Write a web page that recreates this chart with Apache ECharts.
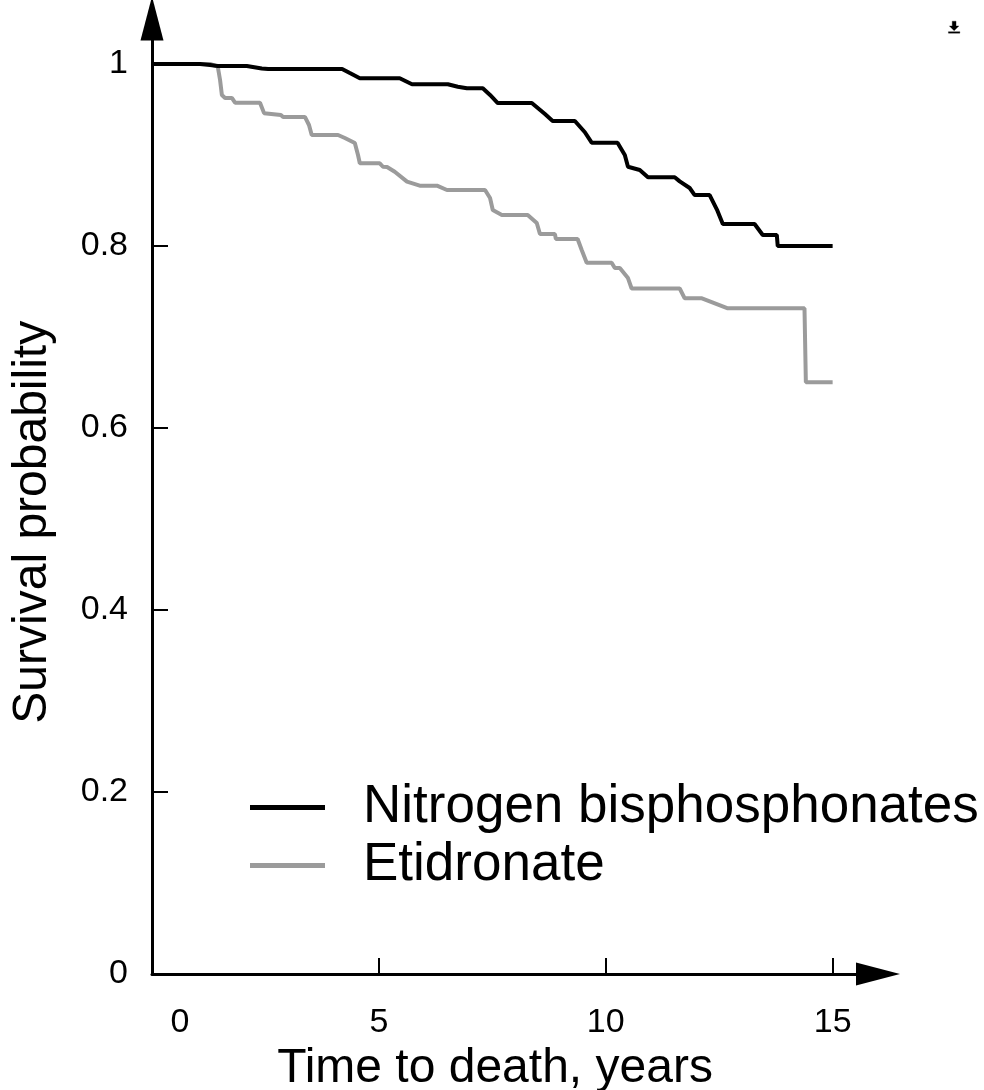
<!DOCTYPE html>
<html>
<head>
<meta charset="utf-8">
<script src="https://cdn.jsdelivr.net/npm/echarts@6/dist/echarts.min.js"></script>
<style>
html,body{margin:0;padding:0;background:#fff;}
#chart{width:984px;height:1090px;}
</style>
</head>
<body>
<div id="chart"></div>
<script>
// Data (time in years, survival probability)
const seriesNames = ['Nitrogen bisphosphonates', 'Etidronate'];

const nitrogenTime = [0, 1.06, 1.28, 1.45, 2.09, 2.42, 2.56, 4.19, 4.36, 4.58, 5.46, 5.73, 6.52, 6.74, 6.94, 7.29, 7.45, 7.62, 8.37, 8.66, 8.83, 9.32, 9.54, 9.69, 10.26, 10.42, 10.49, 10.75, 10.93, 11.52, 11.63, 11.85, 11.96, 12.29, 12.45, 12.58, 13.28, 13.46, 13.77, 13.79, 15.0];
const nitrogenSurv = [1, 1, 0.9989, 0.9978, 0.9978, 0.9951, 0.9945, 0.9945, 0.990, 0.9843, 0.9843, 0.9777, 0.9777, 0.975, 0.9733, 0.9733, 0.966, 0.9571, 0.9571, 0.945, 0.9374, 0.9374, 0.925, 0.9135, 0.9135, 0.90, 0.8871, 0.8835, 0.8755, 0.8755, 0.871, 0.8637, 0.856, 0.856, 0.84, 0.8242, 0.8242, 0.8121, 0.8121, 0.80, 0.80];

const etidronateTime = [0, 1.28, 1.45, 1.50, 1.54, 1.61, 1.76, 1.83, 2.38, 2.47, 2.84, 2.89, 3.37, 3.46, 3.52, 4.10, 4.25, 4.47, 4.54, 4.58, 5.02, 5.09, 5.18, 5.35, 5.62, 5.90, 6.28, 6.50, 7.34, 7.45, 7.51, 7.71, 8.28, 8.48, 8.55, 8.88, 8.90, 9.38, 9.47, 9.58, 10.13, 10.20, 10.31, 10.49, 10.57, 11.63, 11.74, 12.12, 12.69, 14.38, 14.41, 15.0];
const etidronateSurv = [1, 1, 0.997, 0.9824, 0.9659, 0.9627, 0.9627, 0.9575, 0.9575, 0.946, 0.944, 0.9418, 0.9418, 0.933, 0.922, 0.922, 0.9187, 0.9132, 0.90, 0.8909, 0.8909, 0.8871, 0.8868, 0.8816, 0.8707, 0.8663, 0.8663, 0.8615, 0.8615, 0.8527, 0.8396, 0.8341, 0.8341, 0.8253, 0.8132, 0.8132, 0.8077, 0.8077, 0.7956, 0.7816, 0.7816, 0.7758, 0.7758, 0.7648, 0.7533, 0.7533, 0.7425, 0.7425, 0.7315, 0.7315, 0.6502, 0.6502];

const xTickValues = [5, 10, 15];
const xLabelValues = [0, 5, 10, 15];
const yTickValues = [0.2, 0.4, 0.6, 0.8, 1];
const yLabelValues = [0, 0.2, 0.4, 0.6, 0.8, 1];

const xAxisName = 'Time to death, years';
const yAxisName = 'Survival probability';

const FONT = '"Liberation Sans", Arial, sans-serif';

function pairs(xs, ys) { return xs.map((x, i) => [x, ys[i]]); }

const chart = echarts.init(document.getElementById('chart'), null, {renderer: 'canvas'});
chart.setOption({
  animation: false,
  backgroundColor: '#fff',
  toolbox: {
    right: 9, top: 6, itemSize: 12,
    feature: {
      saveAsImage: {
        icon: 'path://M4,0h4v5h3l-5,5l-5,-5h3z M0,11h12v1.6h-12z',
        title: ' '
      }
    },
    iconStyle: {color: '#000', borderColor: '#000', borderWidth: 0.3}
  },
  grid: {left: 152, right: 106, top: 18.5, bottom: 116, containLabel: false, outerBoundsMode: 'none'},
  legend: {
    orient: 'vertical',
    left: 245, top: 776,
    itemWidth: 75, itemHeight: 5, itemGap: 5,
    icon: 'rect',
    data: [
      {name: seriesNames[0], itemStyle: {color: '#000'}},
      {name: seriesNames[1], itemStyle: {color: '#9b9b9b'}}
    ],
    textStyle: {fontSize: 53, fontFamily: FONT, color: '#000', padding: [0, 0, 0, 33]}
  },
  xAxis: {
    type: 'value', min: 0, max: 16,
    name: xAxisName, nameLocation: 'middle', nameGap: 50,
    nameTextStyle: {fontSize: 48, fontFamily: FONT, color: '#000', padding: [0, 40, 0, 0]},
    axisLine: {show: true, lineStyle: {color: '#000', width: 3}, symbol: ['none', 'triangle'], symbolSize: [23, 44]},
    axisTick: {show: true, inside: true, length: 16, lineStyle: {color: '#000', width: 2}, customValues: xTickValues},
    axisLabel: {
      customValues: xLabelValues, margin: 32, fontSize: 34, fontFamily: FONT, color: '#000',
      formatter: v => v === 0 ? '{z|0}' : String(v),
      rich: {z: {fontSize: 34, fontFamily: FONT, color: '#000', padding: [0, 0, 0, 56]}}
    },
    splitLine: {show: false}
  },
  yAxis: {
    type: 'value', min: 0, max: 1.05,
    name: yAxisName, nameLocation: 'middle', nameGap: 95, nameRotate: 90,
    nameTextStyle: {fontSize: 48, fontFamily: FONT, color: '#000', padding: [0, 52, 0, 0]},
    axisLine: {show: true, lineStyle: {color: '#000', width: 3}, symbol: ['none', 'triangle'], symbolSize: [23, 44]},
    axisTick: {show: true, inside: true, length: 16, lineStyle: {color: '#000', width: 2}, customValues: yTickValues},
    axisLabel: {customValues: yLabelValues, margin: 24, fontSize: 34, fontFamily: FONT, color: '#000'},
    splitLine: {show: false}
  },
  series: [
    {
      name: seriesNames[1], type: 'line', showSymbol: false, symbol: 'none',
      data: pairs(etidronateTime, etidronateSurv),
      lineStyle: {color: '#9b9b9b', width: 4}, itemStyle: {color: '#9b9b9b'}, z: 2
    },
    {
      name: seriesNames[0], type: 'line', showSymbol: false, symbol: 'none',
      data: pairs(nitrogenTime, nitrogenSurv),
      lineStyle: {color: '#000', width: 4}, itemStyle: {color: '#000'}, z: 3
    }
  ]
});
</script>
</body>
</html>
